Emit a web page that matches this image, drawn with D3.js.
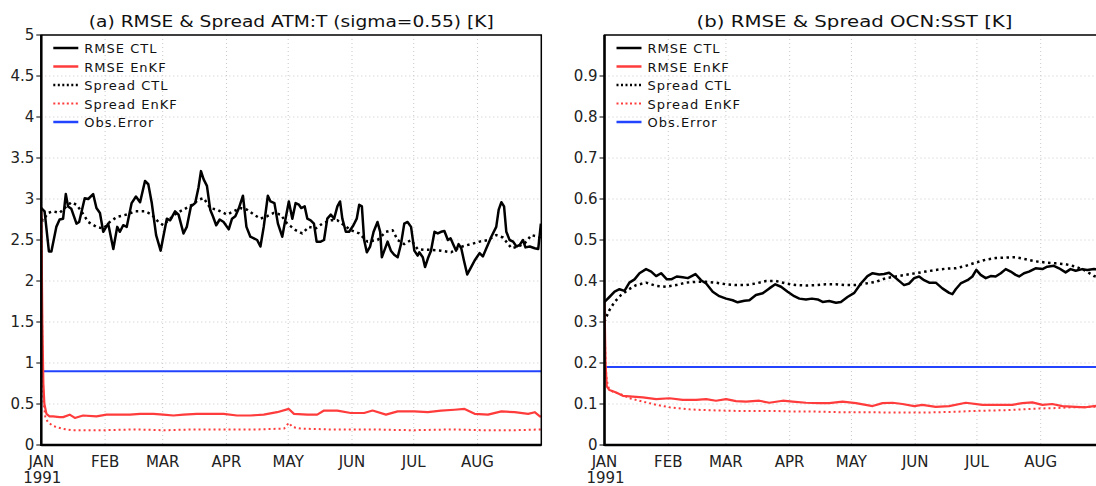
<!DOCTYPE html>
<html>
<head>
<meta charset="utf-8">
<script src="https://cdn.jsdelivr.net/npm/d3@7"></script>
<style>
  body { margin: 0; background: #ffffff; }
  svg { display: block; }
</style>
</head>
<body>
<script>
// day offsets from 1991-01-01, values in K
const monthLabels = ["JAN", "FEB", "MAR", "APR", "MAY", "JUN", "JUL", "AUG"];
const legendLabels = ["RMSE CTL", "RMSE EnKF", "Spread CTL", "Spread EnKF", "Obs.Error"];

const atmTicks = [0, 0.5, 1, 1.5, 2, 2.5, 3, 3.5, 4, 4.5, 5];
const ocnTicks = [0, 0.1, 0.2, 0.3, 0.4, 0.5, 0.6, 0.7, 0.8, 0.9];

const atmObsError = 0.9;
const ocnObsError = 0.19;

const atmRmseCtl = [[0,2.89],[1.6,2.85],[3.7,2.36],[4.9,2.36],[7.3,2.66],[8.9,2.75],[10.6,2.76],[11.9,3.06],[13.0,2.91],[14.6,2.88],[17.1,2.70],[18.4,2.72],[21.1,3.01],[22.8,3.00],[25.2,3.06],[26.8,2.89],[28.5,2.83],[30.1,2.60],[32.5,2.70],[35.0,2.39],[36.9,2.66],[38.2,2.60],[39.8,2.68],[41.5,2.66],[43.9,2.95],[46.0,3.03],[48.0,2.96],[50.4,3.22],[52.0,3.18],[53.7,2.95],[55.8,2.56],[58.0,2.37],[59.3,2.54],[61.0,2.76],[62.6,2.74],[65.0,2.85],[66.7,2.81],[69.1,2.58],[70.7,2.66],[72.7,2.91],[74.8,2.95],[76.4,3.14],[77.6,3.34],[78.9,3.24],[80.5,3.16],[82.1,2.87],[83.4,2.79],[85.0,2.68],[86.7,2.75],[88.6,2.72],[91.1,2.63],[92.7,2.76],[94.3,2.79],[95.9,2.88],[98.0,3.04],[99.7,2.66],[101.6,2.54],[103.3,2.52],[104.9,2.50],[106.5,2.42],[108.1,2.66],[110.1,3.04],[111.4,2.97],[113.3,2.95],[115.0,2.70],[117.1,2.54],[118.7,2.76],[120.3,2.97],[122.0,2.76],[123.6,2.95],[125.2,2.93],[126.3,2.89],[128.0,2.91],[129.3,2.76],[130.9,2.74],[132.5,2.70],[133.8,2.48],[135.8,2.48],[137.4,2.50],[139.0,2.76],[140.7,2.81],[142.3,2.76],[143.9,2.91],[145.2,2.97],[146.3,2.76],[148.0,2.60],[149.6,2.60],[151.7,2.68],[153.3,2.76],[154.5,2.93],[155.8,2.91],[156.9,2.50],[158.2,2.35],[159.8,2.42],[161.5,2.60],[163.4,2.72],[164.7,2.60],[165.5,2.29],[166.7,2.37],[168.3,2.48],[169.9,2.37],[171.5,2.32],[173.2,2.29],[174.8,2.45],[176.4,2.70],[178.0,2.72],[179.7,2.66],[181.3,2.37],[182.9,2.31],[183.7,2.35],[185.4,2.29],[186.5,2.17],[188.1,2.29],[189.4,2.37],[191.1,2.60],[192.7,2.58],[194.3,2.60],[195.9,2.61],[197.6,2.50],[198.9,2.52],[200.5,2.43],[201.6,2.37],[202.8,2.45],[204.1,2.40],[205.4,2.25],[207.0,2.08],[208.9,2.17],[210.6,2.25],[213.0,2.34],[214.6,2.30],[216.3,2.40],[218.7,2.54],[221.1,2.66],[222.3,2.87],[223.6,2.96],[224.9,2.91],[226.0,2.60],[227.6,2.50],[229.3,2.48],[230.9,2.42],[232.5,2.44],[234.1,2.50],[235.3,2.41],[237.4,2.42],[239.8,2.40],[241.5,2.39],[242.8,2.70]];

const atmSpreadCtl = [[0,2.76],[0.8,2.74],[3.3,2.83],[5.7,2.85],[8.9,2.83],[12.2,2.91],[14.6,2.96],[17.1,2.93],[19.5,2.85],[22.8,2.72],[26.8,2.66],[30.1,2.64],[33.3,2.72],[36.6,2.78],[41.5,2.81],[45.5,2.85],[50.4,2.85],[53.7,2.81],[56.9,2.72],[59.3,2.68],[62.6,2.76],[65.9,2.83],[69.1,2.87],[73.2,2.93],[76.4,2.99],[78.9,3.01],[82.1,2.89],[85.4,2.87],[90.2,2.81],[93.5,2.85],[96.7,2.89],[100.0,2.87],[103.3,2.81],[106.5,2.76],[109.8,2.79],[113.0,2.83],[116.3,2.81],[119.5,2.70],[123.6,2.62],[126.8,2.58],[130.1,2.66],[133.3,2.64],[136.6,2.70],[140.7,2.74],[143.9,2.74],[147.2,2.68],[150.4,2.62],[154.5,2.58],[158.5,2.48],[163.4,2.50],[167.5,2.60],[170.7,2.62],[173.2,2.50],[176.4,2.45],[179.7,2.50],[182.9,2.39],[186.2,2.38],[189.4,2.38],[194.3,2.37],[199.2,2.35],[202.4,2.40],[205.7,2.43],[208.9,2.45],[213.0,2.48],[217.1,2.50],[221.1,2.56],[224.4,2.53],[228.5,2.40],[231.7,2.42],[235.0,2.46],[238.2,2.56],[241.5,2.54],[243,2.52]];

const atmRmseEnkf = [[0,2.9],[0.5,1.5],[1,0.75],[1.5,0.5],[2.5,0.38],[4,0.35],[5.7,0.35],[8.9,0.34],[10.6,0.34],[13.8,0.37],[16.3,0.33],[20.3,0.36],[26.8,0.35],[31.7,0.37],[38.2,0.37],[43.1,0.37],[48.0,0.38],[54.5,0.38],[59.3,0.37],[64.2,0.36],[69.1,0.37],[75.6,0.38],[82.1,0.38],[88.6,0.38],[95.1,0.36],[101.6,0.36],[108.1,0.37],[114.6,0.40],[120.3,0.44],[122.8,0.38],[129.3,0.37],[134.1,0.37],[137.4,0.42],[143.9,0.42],[150.4,0.39],[156.9,0.39],[161.0,0.42],[167.5,0.37],[173.2,0.41],[181.3,0.41],[187.8,0.40],[194.3,0.42],[200.8,0.43],[205.7,0.44],[210.6,0.38],[217.1,0.37],[223.6,0.41],[230.1,0.40],[236.6,0.38],[239.8,0.40],[242.3,0.35],[243,0.35]];

const atmSpreadEnkf = [[0,2.8],[0.5,1.2],[1,0.55],[2,0.33],[3.5,0.27],[6,0.23],[10,0.20],[15,0.18],[30,0.18],[45,0.19],[60,0.18],[75,0.19],[90,0.19],[105,0.19],[118,0.20],[120.3,0.27],[122,0.22],[126,0.20],[140,0.19],[160,0.19],[180,0.18],[200,0.19],[215,0.18],[230,0.18],[243,0.19]];

const ocnRmseCtl = [[0,0.349],[2.4,0.361],[4.9,0.374],[7.3,0.380],[9.7,0.376],[12.1,0.396],[14.6,0.404],[17.0,0.419],[20.2,0.429],[22.7,0.423],[25.1,0.412],[27.5,0.419],[30.3,0.404],[32.4,0.404],[35.1,0.411],[38.0,0.409],[40.5,0.407],[44.2,0.417],[46.9,0.402],[49.4,0.394],[52.6,0.374],[55.8,0.363],[59.1,0.357],[62.3,0.353],[64.7,0.348],[68.0,0.352],[70.4,0.353],[73.6,0.366],[76.9,0.370],[80.1,0.382],[83.0,0.392],[85.8,0.386],[89.0,0.374],[92.2,0.363],[94.7,0.357],[97.9,0.355],[100.8,0.357],[103.6,0.355],[106.0,0.349],[109.2,0.351],[112.5,0.347],[114.9,0.349],[118.1,0.361],[121.4,0.371],[124.6,0.394],[127.8,0.412],[130.3,0.419],[133.5,0.416],[135.9,0.417],[138.3,0.420],[141.6,0.407],[145.6,0.390],[148.1,0.394],[150.5,0.407],[152.9,0.411],[155.3,0.402],[157.8,0.396],[161.0,0.396],[164.2,0.382],[167.5,0.371],[169.1,0.368],[170.7,0.380],[173.1,0.394],[176.4,0.402],[178.8,0.411],[180.7,0.427],[182.8,0.415],[185.3,0.407],[187.7,0.412],[190.1,0.411],[192.6,0.419],[195.0,0.429],[197.4,0.423],[199.8,0.415],[201.5,0.411],[203.9,0.419],[206.3,0.423],[209.5,0.431],[212.8,0.429],[215.2,0.435],[218.4,0.437],[220.9,0.431],[224.1,0.421],[226.5,0.429],[229.0,0.425],[232.2,0.429],[234.6,0.427],[237.9,0.429],[243,0.428]];

const ocnSpreadCtl = [[0,0.300],[0.5,0.308],[2.4,0.329],[4.9,0.349],[8.1,0.366],[11.3,0.378],[15.4,0.390],[20.2,0.396],[25.1,0.388],[29.9,0.386],[34.8,0.390],[39.6,0.396],[44.5,0.398],[49.4,0.398],[54.2,0.396],[59.1,0.392],[63.9,0.390],[68.8,0.390],[73.6,0.394],[78.5,0.400],[83.3,0.400],[88.2,0.394],[93.0,0.390],[97.9,0.389],[102.8,0.390],[107.6,0.392],[112.5,0.392],[117.3,0.390],[122.2,0.390],[127.0,0.394],[131.9,0.398],[136.7,0.407],[141.6,0.411],[146.4,0.415],[151.3,0.419],[156.1,0.423],[161.0,0.427],[165.9,0.430],[170.7,0.431],[175.6,0.437],[180.4,0.445],[185.3,0.452],[190.1,0.456],[195.0,0.457],[199.8,0.458],[204.7,0.453],[209.5,0.448],[214.4,0.445],[219.3,0.443],[224.1,0.441],[229.0,0.435],[233.8,0.425],[237.9,0.412],[243,0.405]];

const ocnRmseEnkf = [[0,0.35],[0.5,0.200],[1.1,0.143],[2.4,0.134],[5.7,0.128],[8.9,0.120],[13.8,0.118],[18.6,0.116],[25.1,0.112],[31.6,0.114],[38.0,0.110],[44.5,0.110],[49.4,0.112],[54.2,0.108],[59.1,0.112],[63.9,0.107],[68.8,0.106],[75.2,0.108],[80.1,0.103],[86.6,0.108],[91.4,0.106],[97.9,0.103],[104.4,0.102],[109.2,0.102],[115.7,0.106],[122.2,0.102],[130.3,0.095],[135.1,0.102],[140.0,0.103],[144.8,0.100],[150.5,0.095],[154.5,0.098],[161.0,0.093],[167.5,0.095],[175.6,0.103],[183.7,0.098],[191.7,0.098],[198.2,0.098],[203.1,0.102],[207.9,0.104],[212.8,0.098],[217.6,0.100],[222.5,0.095],[229.0,0.093],[233.8,0.092],[237.9,0.095],[243,0.096]];

const ocnSpreadEnkf = [[0,0.30],[0.5,0.20],[1,0.16],[2,0.14],[4,0.13],[8.9,0.122],[12.1,0.114],[18.6,0.106],[25.1,0.098],[31.6,0.092],[41.3,0.087],[49.4,0.085],[57.4,0.084],[65.5,0.083],[73.6,0.083],[81.7,0.083],[89.8,0.082],[97.9,0.082],[106.0,0.081],[114.1,0.080],[122.2,0.080],[130.3,0.080],[138.3,0.079],[146.4,0.079],[154.5,0.079],[162.6,0.080],[170.7,0.081],[178.8,0.083],[186.9,0.084],[195.0,0.085],[203.1,0.087],[211.2,0.089],[219.3,0.090],[227.3,0.092],[235.4,0.093],[243,0.094]];

const red = "#ff3b3b";
const blue = "#2244ff";
const font = "'DejaVu Sans', sans-serif";

const svg = d3.select("body").append("svg")
  .attr("width", 1096)
  .attr("height", 486);

const day0 = new Date(Date.UTC(1991, 0, 1));
const dayEnd = new Date(Date.UTC(1991, 8, 1));
const toDate = d => new Date(day0.getTime() + d * 864e5);
const monthStarts = d3.utcMonths(day0, dayEnd);

function drawPanel(p) {
  const x = d3.scaleUtc()
    .domain([day0, dayEnd])
    .range([p.left, p.left + 500]);
  const y = d3.scaleLinear()
    .domain(p.yDomain)
    .range([445, 35]);

  const g = svg.append("g");
  const clipId = "clip-" + p.id;
  g.append("clipPath").attr("id", clipId)
    .append("rect")
    .attr("x", p.left).attr("y", 35)
    .attr("width", 500).attr("height", 410);

  // grid
  g.append("g")
    .selectAll("line")
    .data(p.yTicks.filter(t => t > p.yDomain[0] && t < p.yDomain[1]))
    .join("line")
    .attr("x1", p.left).attr("x2", p.left + 500)
    .attr("y1", d => y(d)).attr("y2", d => y(d))
    .attr("stroke", "#c8c8c8")
    .attr("stroke-width", 1)
    .attr("stroke-dasharray", "1,3");

  g.append("g")
    .selectAll("line")
    .data(monthStarts.slice(1))
    .join("line")
    .attr("x1", d => x(d)).attr("x2", d => x(d))
    .attr("y1", 35).attr("y2", 445)
    .attr("stroke", "#c8c8c8")
    .attr("stroke-width", 1)
    .attr("stroke-dasharray", "1,3");

  // y ticks and labels
  const yAxis = g.append("g");
  yAxis.selectAll("line")
    .data(p.yTicks)
    .join("line")
    .attr("x1", p.left - 5).attr("x2", p.left)
    .attr("y1", d => y(d)).attr("y2", d => y(d))
    .attr("stroke", "#000");
  yAxis.selectAll("text")
    .data(p.yTicks)
    .join("text")
    .attr("x", p.left - 7)
    .attr("y", d => y(d) + 5)
    .attr("text-anchor", "end")
    .style("font-family", font)
    .style("font-size", "15px")
    .attr("fill", "#222")
    .text(d => d);

  // x labels
  const xAxis = g.append("g");
  xAxis.selectAll("text")
    .data(monthStarts)
    .join("text")
    .attr("x", d => x(d))
    .attr("y", 467)
    .attr("text-anchor", "middle")
    .style("font-family", font)
    .style("font-size", "15px")
    .attr("fill", "#222")
    .text((d, i) => monthLabels[i]);
  xAxis.append("text")
    .attr("x", x(day0) + 1)
    .attr("y", 483)
    .attr("text-anchor", "middle")
    .style("font-family", font)
    .style("font-size", "15px")
    .attr("fill", "#222")
    .text("1991");

  // series
  const line = d3.line()
    .x(d => x(toDate(d[0])))
    .y(d => y(d[1]));
  const lines = g.append("g").attr("clip-path", `url(#${clipId})`);

  lines.append("line")
    .attr("x1", p.left).attr("x2", p.left + 500)
    .attr("y1", y(p.obs)).attr("y2", y(p.obs))
    .attr("stroke", blue)
    .attr("stroke-width", 2);

  const series = [
    { data: p.spreadEnkf, color: red, width: 2, dash: "2,3" },
    { data: p.spreadCtl, color: "#000", width: 2.5, dash: "2.5,3.5" },
    { data: p.rmseEnkf, color: red, width: 2.2, dash: null },
    { data: p.rmseCtl, color: "#000", width: 2.5, dash: null }
  ];
  series.forEach(s => {
    lines.append("path")
      .datum(s.data)
      .attr("d", line)
      .attr("fill", "none")
      .attr("stroke", s.color)
      .attr("stroke-width", s.width)
      .attr("stroke-linejoin", "round")
      .attr("stroke-dasharray", s.dash);
  });

  // frame
  g.append("rect")
    .attr("x", p.left).attr("y", 35)
    .attr("width", 500).attr("height", 410)
    .attr("fill", "none")
    .attr("stroke", "#000")
    .attr("stroke-width", 1.5);
  g.append("line")
    .attr("x1", p.left).attr("x2", p.left)
    .attr("y1", 35).attr("y2", 446)
    .attr("stroke", "#000").attr("stroke-width", 2.5);
  g.append("line")
    .attr("x1", p.left).attr("x2", p.left + 500)
    .attr("y1", 445).attr("y2", 445)
    .attr("stroke", "#000").attr("stroke-width", 2.5);

  // title
  g.append("text")
    .attr("x", p.left + 250)
    .attr("y", 26.5)
    .attr("text-anchor", "middle")
    .style("font-family", font)
    .style("font-size", "16.5px")
    .attr("textLength", p.titleWidth)
    .attr("lengthAdjust", "spacingAndGlyphs")
    .attr("fill", "#111")
    .text(p.title);

  // legend
  const legendStyles = [
    { color: "#000", dash: null, width: 2.5 },
    { color: red, dash: null, width: 2.5 },
    { color: "#000", dash: "2,2.5", width: 2.5 },
    { color: red, dash: "2,2.5", width: 2 },
    { color: blue, dash: null, width: 2.5 }
  ];
  const rows = g.append("g")
    .selectAll("g")
    .data(legendLabels)
    .join("g")
    .attr("transform", (d, i) => `translate(${p.left + 12},${48 + i * 18.5})`);
  rows.append("line")
    .attr("x1", 0).attr("x2", 25)
    .attr("stroke", (d, i) => legendStyles[i].color)
    .attr("stroke-width", (d, i) => legendStyles[i].width)
    .attr("stroke-dasharray", (d, i) => legendStyles[i].dash);
  rows.append("text")
    .attr("x", 31)
    .attr("y", 5)
    .style("font-family", font)
    .style("font-size", "13px")
    .style("letter-spacing", "1px")
    .attr("fill", "#111")
    .text(d => d);
}

drawPanel({
  id: "atm",
  left: 41.3,
  yDomain: [0, 5],
  yTicks: atmTicks,
  obs: atmObsError,
  rmseCtl: atmRmseCtl,
  spreadCtl: atmSpreadCtl,
  rmseEnkf: atmRmseEnkf,
  spreadEnkf: atmSpreadEnkf,
  title: "(a) RMSE & Spread ATM:T (sigma=0.55) [K]",
  titleWidth: 405
});

drawPanel({
  id: "ocn",
  left: 604.5,
  yDomain: [0, 1],
  yTicks: ocnTicks,
  obs: ocnObsError,
  rmseCtl: ocnRmseCtl,
  spreadCtl: ocnSpreadCtl,
  rmseEnkf: ocnRmseEnkf,
  spreadEnkf: ocnSpreadEnkf,
  title: "(b) RMSE & Spread OCN:SST [K]",
  titleWidth: 316
});
</script>
</body>
</html>
